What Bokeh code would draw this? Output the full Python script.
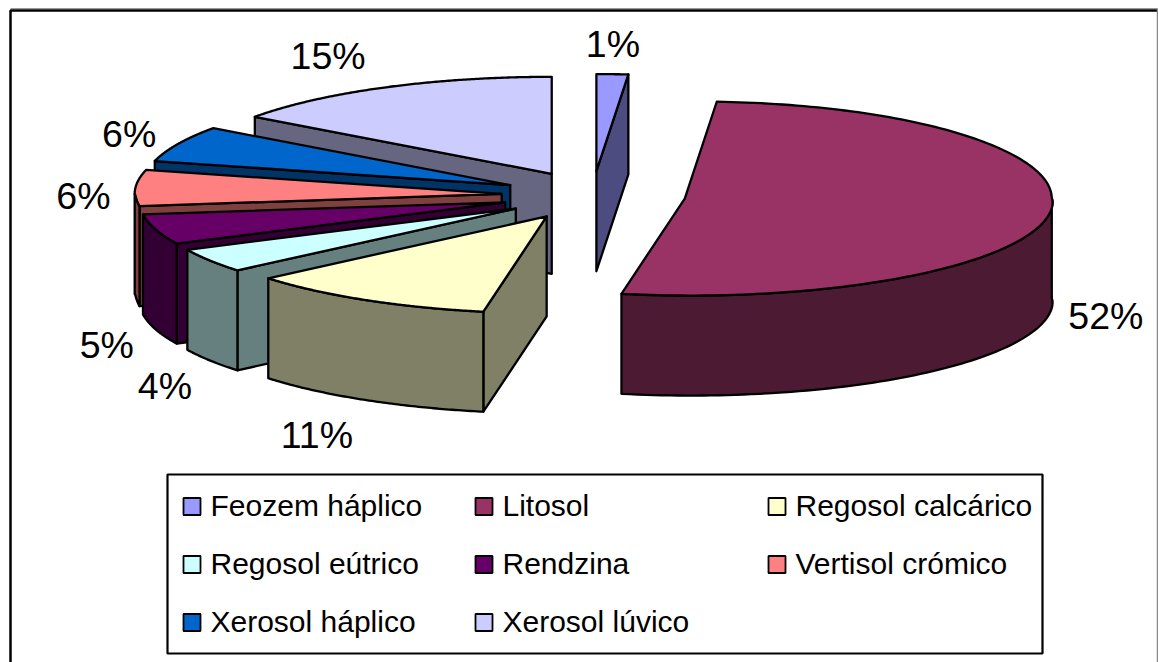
import numpy as np
from bokeh.core.properties import value
from bokeh.embed import file_html
from bokeh.models import Range1d
from bokeh.plotting import figure
from bokeh.resources import INLINE

# Soil types and their share of the total, in percent
categories = ["Feozem háplico", "Litosol", "Regosol calcárico", "Regosol eútrico",
              "Rendzina", "Vertisol crómico", "Xerosol háplico", "Xerosol lúvico"]
shares = [1, 52, 11, 4, 5, 6, 6, 15]
top_colors = ["#9999FF", "#993366", "#FFFFCC", "#CCFFFF", "#660066", "#FF8080", "#0066CC", "#CCCCFF"]
side_colors = ["#4C4C80", "#4D1A33", "#808066", "#668080", "#330033", "#804040", "#003366", "#666680"]

# Projection of the tilted pie, in screen units
WIDTH, HEIGHT = 1158, 662
CX, CY = 593, 195
RX, RY = 367, 97
DEPTH = 100
EXPLODE = 92
FONT = value("Liberation Sans")

# Offset of each percentage label from the rim midpoint of its slice
label_nudge = [(5, -30), (57, 105), (-43, 135), (-41, 125), (-46, 116), (-52, 8), (-49, -10), (-57, -31)]

p = figure(width=WIDTH, height=HEIGHT, output_backend="svg", toolbar_location=None,
           x_range=Range1d(0, WIDTH), y_range=Range1d(HEIGHT, 0),
           min_border=0, outline_line_color=None, background_fill_color="white")
p.axis.visible = False
p.grid.visible = False

# Chart frame
p.line([10, 10, 1157], [HEIGHT, 10, 10], line_color="black", line_width=2.5)
p.line([10, 1157], [8, 8], line_color="#999999", line_width=1)
p.line([1157, 1157], [8, HEIGHT], line_color="#888888", line_width=1.5)

edges = np.cumsum([0] + shares) * 3.6


def rim(cx, cy, deg):
    # Point on the slice's rim, with a slight perspective drift on the near and far right arcs
    t = np.radians(deg)
    s, c = np.sin(t), np.cos(t)
    drift = np.where(c < 0, 5.5 * np.sqrt(np.clip(-c, 0, 1)),
                     np.where(s > 1e-9, 9 * np.clip(c, 0, 1) ** 4, 0))
    return cx + RX * s + drift, cy - RY * c


def face(xs, ys, color):
    p.patch(list(xs), list(ys), fill_color=color, line_color="black", line_width=2.3, line_join="round")


# Slices are painted from the back of the pie to the front
order = [7, 6, 5, 4, 3, 2, 0, 1]
for i in order:
    start, end = edges[i], edges[i + 1]
    mid = np.radians((start + end) / 2)
    ax = CX + EXPLODE * np.sin(mid)
    ay = CY - EXPLODE * RY / RX * np.cos(mid)

    # Radial cut faces that turn toward the viewer
    for angle, visible in ((start, np.sin(np.radians(start)) < 0), (end, np.sin(np.radians(end)) > 0)):
        if visible:
            rx, ry = rim(ax, ay, angle)
            face([ax, rx, rx, ax], [ay, ry, ry + DEPTH, ay + DEPTH], side_colors[i])

    # Outer wall along the front half of the rim
    lo, hi = max(start, 90), min(end, 270)
    if hi > lo:
        ang = np.linspace(lo, hi, 80)
        wx, wy = rim(ax, ay, ang)
        face(np.r_[wx, wx[::-1]], np.r_[wy, wy[::-1] + DEPTH], side_colors[i])

    # Top surface
    ang = np.linspace(start, end, 160)
    tx, ty = rim(ax, ay, ang)
    face(np.r_[ax, tx], np.r_[ay, ty], top_colors[i])

# Percentage labels
for i, share in enumerate(shares):
    mid = np.radians((edges[i] + edges[i + 1]) / 2)
    lx = CX + (EXPLODE + RX) * np.sin(mid) + label_nudge[i][0]
    ly = CY - (EXPLODE + RX) * RY / RX * np.cos(mid) + label_nudge[i][1]
    p.text([lx], [ly], text=[f"{share}%"], text_font=FONT, text_font_size="37.5px",
           text_align="center", text_baseline="middle", text_color="black")

# Legend box with three columns
p.quad(left=[167], right=[1042], top=[474], bottom=[653], fill_color="white",
       line_color="black", line_width=2.2)
col_x, row_y = [183, 475, 768], [506, 564, 622]
for i, name in enumerate(categories):
    x0, y0 = col_x[i % 3], row_y[i // 3]
    p.quad(left=[x0], right=[x0 + 17], top=[y0 - 8.5], bottom=[y0 + 8.5], fill_color=top_colors[i],
           line_color="black", line_width=1.8)
    p.text([x0 + 27], [y0 - 1], text=[name], text_font=FONT, text_font_size="30px",
           text_align="left", text_baseline="middle", text_color="black")

open("out.html", "w").write(file_html(p, INLINE))
